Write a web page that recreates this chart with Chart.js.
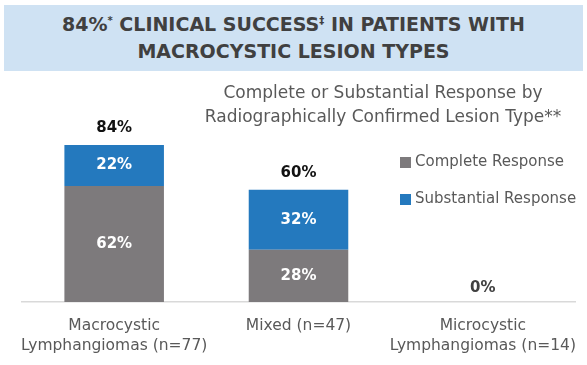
<!DOCTYPE html>
<html>
<head>
<meta charset="utf-8">
<script src="https://cdn.jsdelivr.net/npm/chart.js@4/dist/chart.umd.min.js"></script>
<style>
  body { margin: 0; background: #fff; }
  .wrap { position: relative; width: 587px; height: 365px; font-family: "DejaVu Sans", sans-serif; }
  .titulo {
    position: absolute; left: 4px; top: 5px; width: 579px; height: 66px;
    background: #cfe2f3; color: #404040; font-weight: bold; font-size: 19px;
    text-align: center; line-height: 27px; padding-top: 6px; box-sizing: border-box;
  }
  .titulo sup { font-size: 10px; vertical-align: 7px; line-height: 0; }
  .sub {
    position: absolute; left: 183px; top: 80px; width: 400px; text-align: center;
    color: #595959; font-size: 17px; line-height: 24px;
  }
  canvas { position: absolute; left: 0; top: 0; }
</style>
</head>
<body>
<div class="wrap">
  <canvas id="grafico" width="587" height="365"></canvas>
  <div class="titulo">84%<sup>*</sup> CLINICAL SUCCESS<sup>‡</sup> IN PATIENTS WITH<br>MACROCYSTIC LESION TYPES</div>
  <div class="sub">Complete or Substantial Response by<br>Radiographically Confirmed Lesion Type**</div>
</div>
<script>
const categorias = [
  ['Macrocystic', 'Lymphangiomas (n=77)'],
  'Mixed (n=47)',
  ['Microcystic', 'Lymphangiomas (n=14)']
];
const completa = [62, 28, 0];
const substancial = [22, 32, 0];
const nomesSeries = ['Complete Response', 'Substantial Response'];
const cores = ['#7d7a7c', '#2479be'];

// rotulos dentro das barras e total em cima
const rotulos = {
  id: 'rotulos',
  afterDatasetsDraw(chart) {
    const ctx = chart.ctx;
    ctx.save();
    ctx.textAlign = 'center';
    ctx.textBaseline = 'middle';
    ctx.font = 'bold 15px "DejaVu Sans"';
    chart.data.datasets.forEach((ds, i) => {
      chart.getDatasetMeta(i).data.forEach((bar, j) => {
        if (!ds.data[j]) return;
        ctx.fillStyle = '#ffffff';
        ctx.fillText(ds.data[j] + '%', bar.x, (bar.y + bar.base) / 2);
      });
    });
    const y = chart.scales.y;
    categorias.forEach((c, j) => {
      const total = completa[j] + substancial[j];
      const x = chart.scales.x.getPixelForValue(j);
      ctx.fillStyle = total ? '#111111' : '#404040';
      ctx.fillText(total + '%', x, y.getPixelForValue(total) - (total ? 17 : 14));
    });
    ctx.restore();
  }
};

// legenda a direita
const legenda = {
  id: 'legenda',
  afterDraw(chart) {
    const ctx = chart.ctx;
    ctx.save();
    ctx.font = '15px "DejaVu Sans"';
    ctx.textBaseline = 'middle';
    nomesSeries.forEach((n, i) => {
      const yy = 162 + i * 37;
      ctx.fillStyle = cores[i];
      ctx.fillRect(400, yy - 5, 11, 11);
      ctx.fillStyle = '#595959';
      ctx.fillText(n, 415, yy);
    });
    ctx.restore();
  }
};

new Chart(document.getElementById('grafico'), {
  type: 'bar',
  data: {
    labels: categorias,
    datasets: [
      { label: nomesSeries[0], data: completa, backgroundColor: cores[0] },
      { label: nomesSeries[1], data: substancial, backgroundColor: cores[1] }
    ]
  },
  options: {
    responsive: false,
    animation: false,
    datasets: { bar: { categoryPercentage: 1, barPercentage: 0.54 } },
    layout: { padding: { left: 22, right: 12, top: 115, bottom: 0 } },
    plugins: { legend: { display: false }, tooltip: { enabled: false } },
    scales: {
      x: {
        stacked: true,
        grid: { display: false },
        border: { color: '#d9d9d9', width: 1.5 },
        ticks: { color: '#595959', font: { family: 'DejaVu Sans', size: 15.5, lineHeight: 1.27 }, padding: 6, maxRotation: 0, autoSkip: false },
        afterFit(s) { s.height = 63; }
      },
      y: { stacked: true, display: false, min: 0, max: 100 }
    }
  },
  plugins: [rotulos, legenda]
});
</script>
</body>
</html>
